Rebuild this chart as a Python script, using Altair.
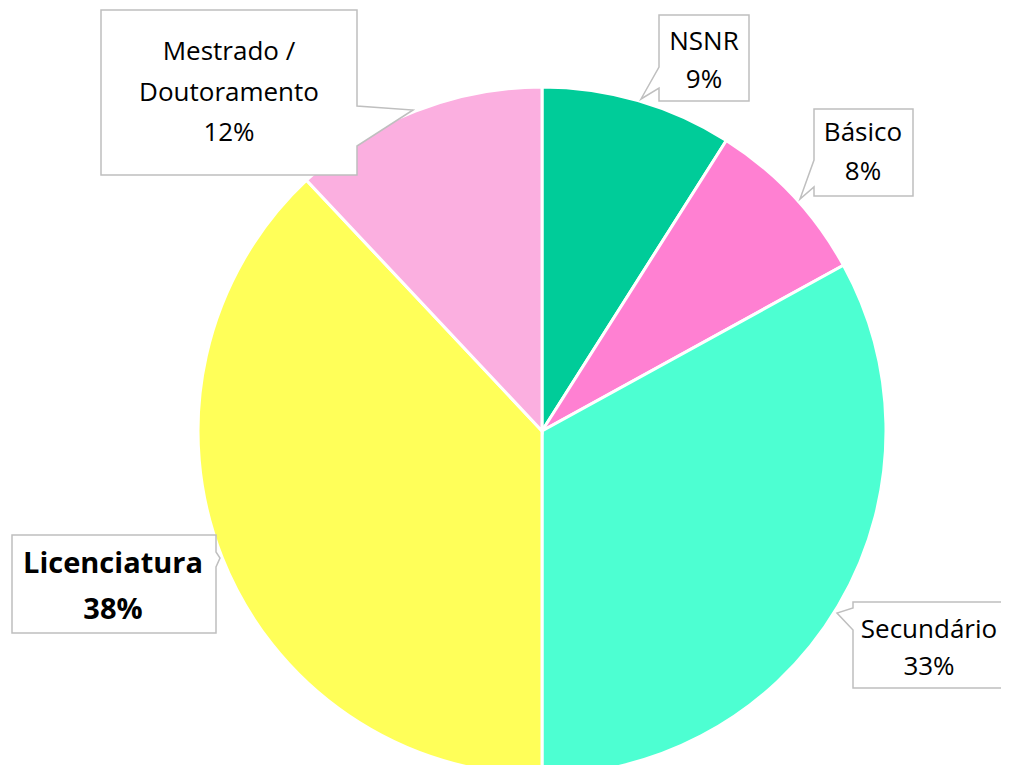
import altair as alt
import pandas as pd

# ---- data ----
categories = ["NSNR", "Básico", "Secundário", "Licenciatura", "Mestrado / Doutoramento"]
values = [9, 8, 33, 38, 12]
label_names = [["NSNR"], ["Básico"], ["Secundário"], ["Licenciatura"], ["Mestrado /", "Doutoramento"]]

# ---- styles / layout ----
colors = ["#00CC99", "#FF80D2", "#4DFFD2", "#FFFF59", "#FBAFE0"]
W, H = 993, 757
CX, CY, R = 534, 423, 344
FONT = "Open Sans"
FS = 26
FS_BOLD = 29
# label: center x, first-line y, line height (pixels)
label_layout = {
    "NSNR": (696, 34, 38),
    "Básico": (855, 125, 39),
    "Secundário": (921, 622, 37),
    "Licenciatura": (105, 556, 46),
    "Mestrado / Doutoramento": (221, 44, 40.5),
}
bold_labels = {"Licenciatura"}

# callout outlines (pixel paths)
callout_path = " ".join([
    "M93,2 L349,2 L349,98 L405,102 L349,138 L349,167 L93,167 Z",
    "M651,7 L741,7 L741,93 L651,93 L651,80 L633,91 L651,59 Z",
    "M806,101 L905,101 L905,188 L806,188 L806,179 L792,191 L806,152 Z",
    "M4,527 L208,527 L208,544 L212,550 L208,559 L208,625 L4,625 Z",
    "M845,594 L1010,594 L1010,680 L845,680 L845,622 L829,605 L845,600 Z",
])

pie_df = pd.DataFrame({
    "categoria": categories,
    "valor": values,
    "ordem": list(range(len(categories))),
})

pie = alt.Chart(pie_df).mark_arc(radius=R, stroke="white", strokeWidth=3).encode(
    theta=alt.Theta("valor:Q", stack=True),
    color=alt.Color("categoria:N", scale=alt.Scale(domain=categories, range=colors), legend=None),
    order=alt.Order("ordem:Q"),
    x=alt.value(CX),
    y=alt.value(CY),
)

callouts = alt.Chart(pd.DataFrame({"k": [0]})).mark_point(
    shape=callout_path, size=4, filled=True, fill="white", stroke="#BFBFBF",
    strokeWidth=1.5, opacity=1,
).encode(x=alt.value(0), y=alt.value(0))

rows = []
for cat, lines, v in zip(categories, label_names, values):
    px, py, lh = label_layout[cat]
    for i, line in enumerate(lines + [f"{v}%"]):
        rows.append({"categoria": cat, "label": line, "px": px, "py": py + i * lh,
                     "bold": cat in bold_labels})
lab_df = pd.DataFrame(rows)

def text_layer(df, weight, size):
    return alt.Chart(df).mark_text(
        font=FONT, fontSize=size, fontWeight=weight, color="black",
        align="center", baseline="middle",
    ).encode(
        x=alt.X("px:Q", scale=None, axis=None),
        y=alt.Y("py:Q", scale=None, axis=None),
        text="label:N",
    )

normal_text = text_layer(lab_df[~lab_df["bold"]], "normal", FS)
bold_text = text_layer(lab_df[lab_df["bold"]], "bold", FS_BOLD)

chart = alt.layer(pie, callouts, normal_text, bold_text).properties(
    width=W, height=H, autosize=alt.AutoSizeParams(type="none"), padding=0,
).configure_view(stroke=None)

chart.save("out.html", embed_options={"renderer": "svg", "actions": False})
